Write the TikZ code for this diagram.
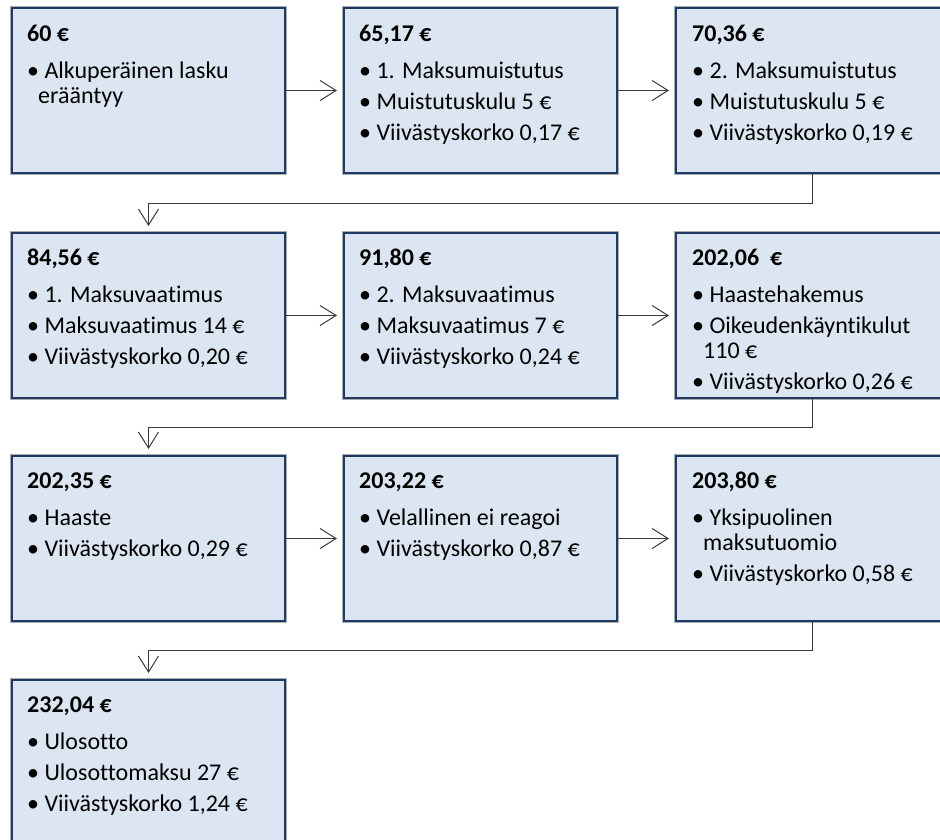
\documentclass[tikz,border=0pt]{standalone}
\usepackage{fontspec}
\setmainfont{Carlito}[Ligatures={NoCommon}]
\usetikzlibrary{arrows.meta,calc}
\definecolor{boxfill}{HTML}{DCE6F2}
\definecolor{boxline}{HTML}{1F3A64}
\definecolor{conn}{HTML}{3A3A3A}
\begin{document}
\begin{tikzpicture}[x=1pt,y=-1pt,
  box/.style={draw=boxline, line width=2pt, fill=boxfill, minimum width=273pt,
    minimum height=165pt, inner sep=0pt, anchor=north west,
    preaction={draw=gray!65, line width=3.8pt}},
  txt/.style={anchor=north west, align=left, inner sep=0pt,
    font=\fontsize{24}{25}\selectfont},
  arr/.style={draw=conn, line width=1pt, -{Straight Barb[length=16pt,width=20pt]}}]
\useasboundingbox (0,0) rectangle (940,839);
% boxes
\node[box] (b1) at (11,7) {};
\node[box] (b2) at (343,7) {};
\node[box] (b3) at (675,7) {};
\node[box] (b4) at (11,232) {};
\node[box] (b5) at (343,232) {};
\node[box] (b6) at (675,232) {};
\node[box] (b7) at (11,455) {};
\node[box] (b8) at (343,455) {};
\node[box] (b9) at (675,455) {};
\node[box] (b10) at (11,679) {};
% texts
\node[txt] (t1) at ([xshift=16pt,yshift=-14.5pt]b1.north west)
 {\rule{0pt}{20pt}\textbf{60 €}\\[12pt]
  • Alkuperäinen lasku\\
  \hspace*{11pt}erääntyy};
\node[txt] (t2) at ([xshift=16pt,yshift=-14.5pt]b2.north west)
 {\rule{0pt}{20pt}\textbf{65,17 €}\\[12pt]
  • 1. Maksumuistutus\\[6pt]
  • Muistutuskulu 5 €\\[6pt]
  • Viivästyskorko 0,17 €};
\node[txt] (t3) at ([xshift=17pt,yshift=-14.5pt]b3.north west)
 {\rule{0pt}{20pt}\textbf{70,36 €}\\[12pt]
  • 2. Maksumuistutus\\[6pt]
  • Muistutuskulu 5 €\\[6pt]
  • Viivästyskorko 0,19 €};
\node[txt] (t4) at ([xshift=16pt,yshift=-13.5pt]b4.north west)
 {\rule{0pt}{20pt}\textbf{84,56 €}\\[12pt]
  • 1. Maksuvaatimus\\[6pt]
  • Maksuvaatimus 14 €\\[6pt]
  • Viivästyskorko 0,20 €};
\node[txt] (t5) at ([xshift=16pt,yshift=-13.5pt]b5.north west)
 {\rule{0pt}{20pt}\textbf{91,80 €}\\[12pt]
  • 2. Maksuvaatimus\\[6pt]
  • Maksuvaatimus 7 €\\[6pt]
  • Viivästyskorko 0,24 €};
\node[txt] (t6) at ([xshift=17pt,yshift=-13.5pt]b6.north west)
 {\rule{0pt}{20pt}\textbf{202,06\ \ €}\\[12pt]
  • Haastehakemus\\[6pt]
  • Oikeudenkäyntikulut\\
  \hspace*{11pt}110 €\\[6pt]
  • Viivästyskorko 0,26 €};
\node[txt] (t7) at ([xshift=16pt,yshift=-13.5pt]b7.north west)
 {\rule{0pt}{20pt}\textbf{202,35 €}\\[12pt]
  • Haaste\\[6pt]
  • Viivästyskorko 0,29 €};
\node[txt] (t8) at ([xshift=16pt,yshift=-13.5pt]b8.north west)
 {\rule{0pt}{20pt}\textbf{203,22 €}\\[12pt]
  • Velallinen ei reagoi\\[6pt]
  • Viivästyskorko 0,87 €};
\node[txt] (t9) at ([xshift=17pt,yshift=-13.5pt]b9.north west)
 {\rule{0pt}{20pt}\textbf{203,80 €}\\[12pt]
  • Yksipuolinen\\
  \hspace*{11pt}maksutuomio\\[6pt]
  • Viivästyskorko 0,58 €};
\node[txt] (t10) at ([xshift=16pt,yshift=-13.5pt]b10.north west)
 {\rule{0pt}{20pt}\textbf{232,04 €}\\[12pt]
  • Ulosotto\\[6pt]
  • Ulosottomaksu 27 €\\[6pt]
  • Viivästyskorko 1,24 €};
% horizontal connectors
\draw[arr] (b1.east) -- ([xshift=-6pt]b2.west);
\draw[arr] (b2.east) -- ([xshift=-6pt]b3.west);
\draw[arr] (b4.east) -- ([xshift=-6pt]b5.west);
\draw[arr] (b5.east) -- ([xshift=-6pt]b6.west);
\draw[arr] (b7.east) -- ([xshift=-6pt]b8.west);
\draw[arr] (b8.east) -- ([xshift=-6pt]b9.west);
% elbow connectors
\coordinate (m1) at ($(b3.south)!0.5!(b4.north)$);
\coordinate (m2) at ($(b6.south)!0.5!(b7.north)$);
\coordinate (m3) at ($(b9.south)!0.5!(b10.north)$);
\draw[arr] (b3.south) -- (b3.south |- m1) -- (b4.north |- m1) -- ([yshift=6pt]b4.north);
\draw[arr] (b6.south) -- (b6.south |- m2) -- (b7.north |- m2) -- ([yshift=6pt]b7.north);
\draw[arr] (b9.south) -- (b9.south |- m3) -- (b10.north |- m3) -- ([yshift=6pt]b10.north);
\end{tikzpicture}
\end{document}
